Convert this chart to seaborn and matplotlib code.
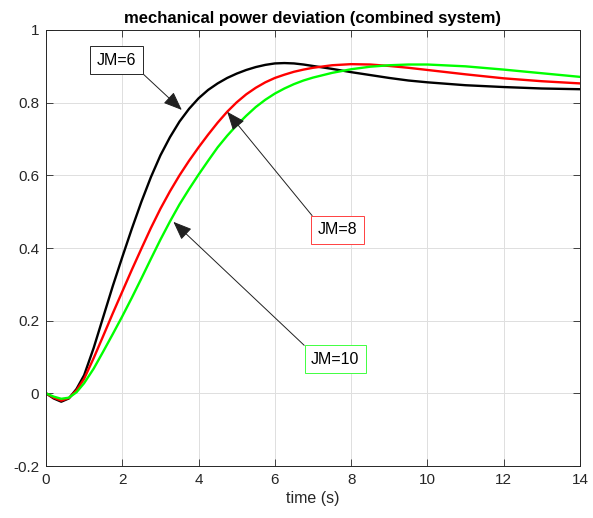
import matplotlib
matplotlib.use("Agg")
import matplotlib.pyplot as plt
import seaborn as sns
import pandas as pd

# ---- data ----
time_s = [0, 0.2, 0.4, 0.6, 0.8, 1.0, 1.25, 1.5, 1.75, 2.0, 2.25, 2.5, 2.75, 3.0,
          3.25, 3.5, 3.75, 4.0, 4.25, 4.5, 4.75, 5.0, 5.25, 5.5, 5.75, 6.0, 6.25,
          6.5, 6.75, 7.0, 7.5, 8.0, 8.5, 9.0, 9.5, 10, 11, 12, 13, 14]
jm6 = [0, -0.014, -0.023, -0.014, 0.012, 0.05, 0.125, 0.21, 0.295, 0.375, 0.453,
       0.527, 0.595, 0.655, 0.705, 0.748, 0.783, 0.812, 0.835, 0.853, 0.868, 0.88,
       0.89, 0.898, 0.904, 0.908, 0.909, 0.908, 0.905, 0.901, 0.893, 0.884, 0.876,
       0.868, 0.861, 0.856, 0.848, 0.843, 0.839, 0.837]
jm8 = [0, -0.012, -0.02, -0.013, 0.008, 0.04, 0.097, 0.158, 0.22, 0.28, 0.34,
       0.398, 0.455, 0.508, 0.556, 0.6, 0.64, 0.677, 0.712, 0.745, 0.775, 0.801,
       0.823, 0.841, 0.856, 0.868, 0.877, 0.885, 0.891, 0.896, 0.903, 0.906, 0.905,
       0.901, 0.896, 0.89, 0.878, 0.867, 0.859, 0.853]
jm10 = [0, -0.009, -0.015, -0.012, 0.003, 0.028, 0.068, 0.115, 0.163, 0.212, 0.263,
        0.316, 0.37, 0.423, 0.473, 0.52, 0.562, 0.602, 0.64, 0.677, 0.709, 0.738,
        0.764, 0.788, 0.808, 0.825, 0.839, 0.851, 0.861, 0.869, 0.882, 0.892, 0.899,
        0.903, 0.905, 0.905, 0.9, 0.891, 0.881, 0.871]
series_names = ["JM=6", "JM=8", "JM=10"]
series_colors = ["#000000", "#ff0000", "#00ff00"]
x_ticks = [0, 2, 4, 6, 8, 10, 12, 14]
x_ticklabels = ["0", "2", "4", "6", "8", "10", "12", "14"]
y_ticks = [-0.2, 0, 0.2, 0.4, 0.6, 0.8, 1.0]
y_ticklabels = ["-0.2", "0", "0.2", "0.4", "0.6", "0.8", "1"]
title = "mechanical power deviation (combined system)"
xlabel = "time (s)"

df = pd.concat([
    pd.DataFrame({"t": time_s, "p": vals, "case": name})
    for name, vals in zip(series_names, [jm6, jm8, jm10])
], ignore_index=True)

sns.set_theme(style="white")
plt.rcParams["font.family"] = ["Liberation Sans", "DejaVu Sans"]

fig = plt.figure(figsize=(5.93, 5.18), dpi=100)
ax = fig.add_axes([46 / 593, 1 - 466 / 518, (580 - 46) / 593, (466 - 30) / 518])

sns.lineplot(data=df, x="t", y="p", hue="case", palette=series_colors,
             hue_order=series_names, legend=False, linewidth=1.7, ax=ax,
             sort=False, estimator=None)
for ln in ax.get_lines():
    ln.set_solid_joinstyle("round")
    ln.set_solid_capstyle("round")

ax.set_xlim(0, 14)
ax.set_ylim(-0.2, 1.0)
ax.set_xticks(x_ticks)
ax.set_xticklabels(x_ticklabels)
ax.set_yticks(y_ticks)
ax.set_yticklabels(y_ticklabels)
ax.grid(True, color="#dfdfdf", linewidth=0.7)
ax.set_axisbelow(True)
for s in ax.spines.values():
    s.set_visible(True)
    s.set_color("#262626")
    s.set_linewidth(0.7)
ax.tick_params(direction="in", length=5, width=0.6, color="#262626",
               labelsize=11, labelcolor="#262626", top=True, right=True,
               bottom=True, left=True, pad=5)
ax.set_xlabel(xlabel, fontsize=11.5, color="#262626", labelpad=3)
ax.set_ylabel("")
ax.set_title(title, fontsize=12, fontweight="bold", color="#000000", pad=5)

arrow_kw = dict(arrowstyle="-|>,head_length=1.0,head_width=0.4", color="#202020",
                lw=0.7, shrinkA=0, shrinkB=0)
ax.annotate("JM=6", xy=(3.56, 0.78), xytext=(1.85, 0.917), fontsize=11.5,
            ha="center", va="center", color="#000000",
            bbox=dict(boxstyle="square,pad=0.4", fc="white", ec="#262626", lw=0.7),
            arrowprops=dict(relpos=(1, 0), **arrow_kw))
ax.annotate("JM=8", xy=(4.75, 0.775), xytext=(7.64, 0.45), fontsize=11.5,
            ha="center", va="center", color="#000000",
            bbox=dict(boxstyle="square,pad=0.4", fc="white", ec="#ff4040", lw=0.7),
            arrowprops=dict(relpos=(0, 1), **arrow_kw))
ax.annotate("JM=10", xy=(3.34, 0.472), xytext=(7.58, 0.094), fontsize=11.5,
            ha="center", va="center", color="#000000",
            bbox=dict(boxstyle="square,pad=0.4", fc="white", ec="#40ff40", lw=0.7),
            arrowprops=dict(relpos=(0, 1), **arrow_kw))

fig.savefig("out.png", dpi=100)
